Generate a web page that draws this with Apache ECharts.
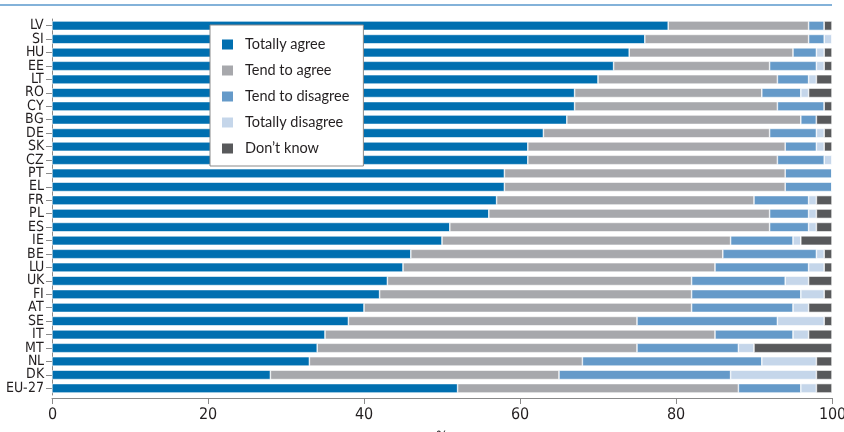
<!DOCTYPE html>
<html>
<head>
<meta charset="utf-8">
<script src="https://cdn.jsdelivr.net/npm/echarts@6/dist/echarts.min.js"></script>
<style>
  @font-face { font-family: 'CondFace'; src: local('Liberation Sans Narrow'), local('LiberationSansNarrow-Regular'), local('DejaVu Sans Condensed'), local('DejaVuSansCondensed'); }
  html, body { margin: 0; padding: 0; background: #fff; }
  #chart { width: 844px; height: 432px; }
</style>
</head>
<body>
<div id="chart"></div>
<script>
const categories = ['LV','SI','HU','EE','LT','RO','CY','BG','DE','SK','CZ','PT','EL','FR','PL','ES','IE','BE','LU','UK','FI','AT','SE','IT','MT','NL','DK','EU-27'];
const totallyAgree    = [79,76,74,72,70,67,67,66,63,61,61,58,58,57,56,51,50,46,45,43,42,40,38,35,34,33,28,52];
const tendToAgree     = [18,21,21,20,23,24,26,30,29,33,32,36,36,33,36,41,37,40,40,39,40,42,37,50,41,35,37,36];
const tendToDisagree  = [2,2,3,6,4,5,6,2,6,4,6,6,6,7,5,5,8,12,12,12,14,13,18,10,13,23,22,8];
const totallyDisagree = [0,1,1,1,1,1,0,0,1,1,1,0,0,1,1,1,1,1,2,3,3,2,6,2,2,7,11,2];
const dontKnow        = [1,0,1,1,2,3,1,2,1,1,0,0,0,2,2,2,4,1,1,3,1,3,1,3,10,2,2,2];
const xTicks = [0,20,40,60,80,100];

const seriesDefs = [
  { name: 'Totally agree', data: totallyAgree, color: '#006fb0' },
  { name: 'Tend to agree', data: tendToAgree, color: '#a7a8ac' },
  { name: 'Tend to disagree', data: tendToDisagree, color: '#659ac9' },
  { name: 'Totally disagree', data: totallyDisagree, color: '#c5d6ea' },
  { name: "Don\u2019t know", data: dontKnow, color: '#58595b' }
];

const condensed = 'CondFace, "Liberation Sans Narrow", "DejaVu Sans Condensed", sans-serif';

function render() {
  const chart = echarts.init(document.getElementById('chart'), null, { renderer: 'canvas' });
  chart.setOption({
    animation: false,
    backgroundColor: '#ffffff',
    graphic: [
      { type: 'line', shape: { x1: 0, y1: 5, x2: 832, y2: 5 }, style: { stroke: '#5a98cc', lineWidth: 1.5 } }
    ],
    grid: { left: 52, right: 12, top: 19, bottom: 37, containLabel: false, outerBoundsMode: 'none' },
    legend: {
      orient: 'vertical',
      left: 210,
      top: 25,
      padding: [12, 14, 10, 10],
      itemGap: 11,
      itemWidth: 13,
      itemHeight: 12,
      icon: 'rect',
      backgroundColor: '#ffffff',
      borderColor: '#8a8a8a',
      borderWidth: 1,
      textStyle: { fontFamily: 'Lato, "Open Sans", sans-serif', fontSize: 14.5, color: '#231f20', padding: [0, 0, 0, 6] },
      data: seriesDefs.map(s => s.name)
    },
    xAxis: {
      type: 'value',
      min: 0,
      max: 100,
      interval: 20,
      offset: 3,
      name: '%',
      nameLocation: 'middle',
      nameGap: 32,
      nameTextStyle: { fontFamily: condensed, fontSize: 14, color: '#231f20' },
      axisLine: { show: true, lineStyle: { color: '#8a8a8a', width: 1 } },
      axisTick: { show: true, length: 6, lineStyle: { color: '#8a8a8a' } },
      axisLabel: { fontFamily: condensed, fontSize: 16, color: '#231f20', margin: 9,
        formatter: v => xTicks.includes(v) ? String(v) : '' },
      splitLine: { show: false }
    },
    yAxis: {
      type: 'category',
      data: categories,
      inverse: true,
      axisLine: { show: true, lineStyle: { color: '#8a8a8a', width: 1 } },
      axisTick: { show: true, alignWithLabel: true, interval: 0, length: 6, lineStyle: { color: '#8a8a8a' } },
      axisLabel: { interval: 0, fontFamily: condensed, fontSize: 14, color: '#231f20', margin: 8 }
    },
    series: seriesDefs.map(s => ({
      name: s.name,
      type: 'bar',
      stack: 'total',
      data: s.data,
      barCategoryGap: '30%',
      itemStyle: { color: s.color, borderColor: '#ffffff', borderWidth: 0.6 },
      emphasis: { disabled: true }
    }))
  });
}

if (document.fonts && document.fonts.load) {
  Promise.all([document.fonts.load('14px CondFace'), document.fonts.load('14px Lato')])
    .then(render, render);
} else {
  render();
}
</script>
</body>
</html>
